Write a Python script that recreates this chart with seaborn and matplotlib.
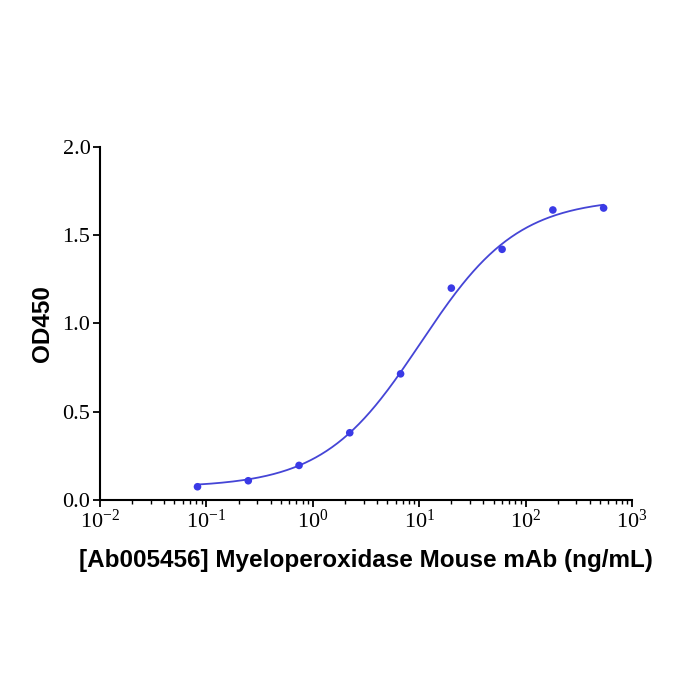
import numpy as np
import pandas as pd
import matplotlib
matplotlib.use("Agg")
import matplotlib.pyplot as plt
import matplotlib.ticker as mticker
import seaborn as sns

# Datos (diluciones 1:3 desde 540 ng/mL)
concentracion = [0.0823, 0.247, 0.741, 2.22, 6.67, 20.0, 60.0, 180.0, 540.0]
od450 = [0.074, 0.108, 0.195, 0.380, 0.714, 1.200, 1.420, 1.643, 1.654]

# Parámetros del ajuste 4PL estimados de la curva
fondo, techo, ec50, pendiente = 0.07, 1.71, 10.3, 0.95

df = pd.DataFrame({"conc": concentracion, "od": od450})

x_curva = np.logspace(np.log10(concentracion[0]), np.log10(concentracion[-1]), 300)
y_curva = fondo + (techo - fondo) / (1 + (ec50 / x_curva) ** pendiente)
df_curva = pd.DataFrame({"conc": x_curva, "od": y_curva})

sns.set_theme(style="ticks")
plt.rcParams["font.family"] = ["Liberation Serif", "DejaVu Serif"]
plt.rcParams["mathtext.fontset"] = "custom"
plt.rcParams["mathtext.rm"] = "Liberation Serif"
plt.rcParams["mathtext.it"] = "Liberation Serif"
plt.rcParams["axes.unicode_minus"] = False
plt.rcParams["text.color"] = "black"
plt.rcParams["axes.labelcolor"] = "black"

fig = plt.figure(figsize=(7, 7), dpi=100)
ax = fig.add_axes([0.143, 0.286, 0.76, 0.504])

sns.lineplot(data=df_curva, x="conc", y="od", ax=ax, color="#4545d6", linewidth=1.3)
sns.scatterplot(data=df, x="conc", y="od", ax=ax, color="#3a3ae6", s=30, edgecolor="none", zorder=3)

ax.set_xscale("log")
ax.set_xlim(0.01, 1000)
ax.set_ylim(0, 2.0)
ax.set_yticks([0, 0.5, 1.0, 1.5, 2.0])
ax.yaxis.set_major_formatter(mticker.FormatStrFormatter("%.1f"))
ax.xaxis.set_major_locator(mticker.LogLocator(base=10, numticks=10))
ax.xaxis.set_minor_locator(mticker.LogLocator(base=10, subs=np.arange(2, 10), numticks=20))
ax.xaxis.set_major_formatter(mticker.LogFormatterMathtext())

sns.despine(ax=ax)
for lado in ["left", "bottom"]:
    ax.spines[lado].set_linewidth(1.5)
    ax.spines[lado].set_color("black")

ax.tick_params(axis="both", which="major", direction="out", length=5, width=1.3,
               labelsize=16, colors="black", pad=2)
ax.tick_params(axis="x", which="minor", direction="out", length=3, width=1.0, colors="black")

ax.set_xlabel("[Ab005456] Myeloperoxidase Mouse mAb (ng/mL)", fontsize=17.5,
              fontweight="bold", family="Liberation Sans", labelpad=12)
ax.set_ylabel("OD450", fontsize=17.5, fontweight="bold", family="Liberation Sans", labelpad=6)

fig.savefig("out.png", dpi=100, facecolor="white")
